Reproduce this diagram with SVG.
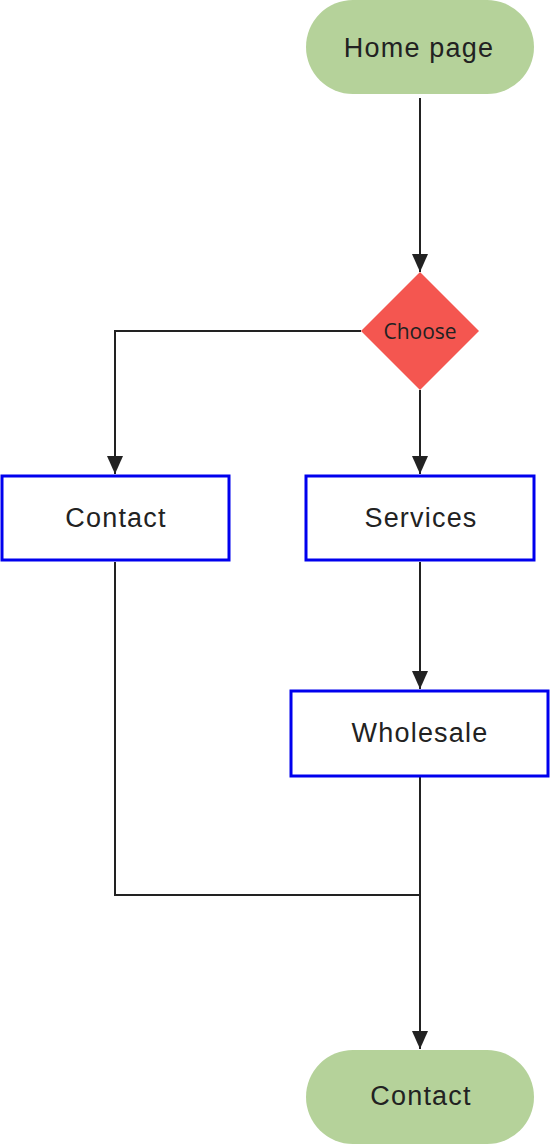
<svg xmlns="http://www.w3.org/2000/svg" width="550" height="1145" viewBox="0 0 550 1145">
<style>
.pill{fill:#b5d29a}
.box{fill:#fff;stroke:#0000ee;stroke-width:3}
.lbl{font-family:"Liberation Sans",Arial,sans-serif;font-size:27px;letter-spacing:1.2px;fill:#222;text-anchor:middle}
.dlbl{font-family:"Open Sans","Liberation Sans",sans-serif;font-size:21px;fill:#222;text-anchor:middle}
.edge{fill:none;stroke:#222;stroke-width:2}
</style>
<defs>
<marker id="arr" viewBox="0 0 18 16" refX="18" refY="8" markerWidth="18" markerHeight="16" markerUnits="userSpaceOnUse" orient="auto">
<path d="M0,0 L18,8 L0,16 Z" fill="#222"/>
</marker>
</defs>
<rect width="550" height="1145" fill="#fff"/>
<g id="connectors">
<path class="edge" d="M420,98 L420,272" marker-end="url(#arr)"/>
<path class="edge" d="M361,331 L115,331 L115,474" marker-end="url(#arr)"/>
<path class="edge" d="M420,390 L420,474" marker-end="url(#arr)"/>
<path class="edge" d="M420,562 L420,689" marker-end="url(#arr)"/>
<path class="edge" d="M115,562 L115,895 L420,895"/>
<path class="edge" d="M420,777 L420,1049" marker-end="url(#arr)"/>
</g>
<g id="home">
<rect class="pill" x="306" y="0" width="228" height="94" rx="47"/>
<text class="lbl" x="419" y="57">Home page</text>
</g>
<g id="choose">
<path d="M420,272 L479,331 L420,390 L361,331 Z" fill="#f45650"/>
<text class="dlbl" x="420" y="339">Choose</text>
</g>
<g id="contact1">
<rect class="box" x="2" y="476" width="227" height="84"/>
<text class="lbl" x="116" y="527">Contact</text>
</g>
<g id="services">
<rect class="box" x="306" y="476" width="228" height="84"/>
<text class="lbl" x="421" y="527">Services</text>
</g>
<g id="wholesale">
<rect class="box" x="291" y="691" width="257" height="85"/>
<text class="lbl" x="420" y="742">Wholesale</text>
</g>
<g id="contact2">
<rect class="pill" x="306" y="1050" width="228" height="94" rx="47"/>
<text class="lbl" x="421" y="1105">Contact</text>
</g>
</svg>
